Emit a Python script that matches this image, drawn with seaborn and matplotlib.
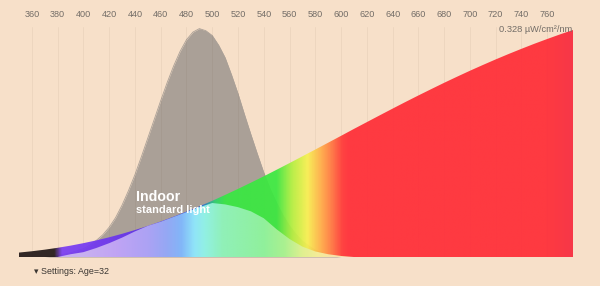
import numpy as np
import pandas as pd
import matplotlib
matplotlib.use("Agg")
import matplotlib.pyplot as plt
from matplotlib.colors import LinearSegmentedColormap
import seaborn as sns

# ---------------- data ----------------
wavelength = list(range(350, 790, 10))
# incandescent "standard light" spectrum, µW/cm²/nm
illuminant = [0.0064, 0.0083, 0.0106, 0.0133, 0.0164, 0.0200, 0.0240, 0.0285, 0.0335,
              0.0390, 0.0449, 0.0513, 0.0582, 0.0655, 0.0732, 0.0812, 0.0897, 0.0984,
              0.1074, 0.1166, 0.1261, 0.1357, 0.1455, 0.1553, 0.1652, 0.1751, 0.1851,
              0.1949, 0.2047, 0.2144, 0.2240, 0.2334, 0.2426, 0.2517, 0.2605, 0.2691,
              0.2774, 0.2855, 0.2933, 0.3008, 0.3081, 0.3150, 0.3217, 0.3280]
# effective (weighted) light
weighted = [0.000, 0.000, 0.000, 0.000, 0.004, 0.007, 0.013, 0.020, 0.028, 0.037,
            0.045, 0.051, 0.058, 0.065, 0.072, 0.078, 0.076, 0.072, 0.066, 0.056,
            0.040, 0.026, 0.015, 0.008, 0.004, 0.0015, 0.000, 0.000, 0.000, 0.000,
            0.000, 0.000, 0.000, 0.000, 0.000, 0.000, 0.000, 0.000, 0.000, 0.000,
            0.000, 0.000, 0.000, 0.000]
# sensitivity curve (grey), 5 nm steps, same scale
sens_nm = list(range(370, 615, 5))
sensitivity = [0.000, 0.001, 0.002, 0.004, 0.006, 0.009, 0.012, 0.017, 0.024, 0.032,
               0.043, 0.057, 0.075, 0.096, 0.119, 0.145, 0.172, 0.199, 0.226, 0.252,
               0.276, 0.297, 0.314, 0.325, 0.330, 0.327, 0.320, 0.306, 0.288, 0.263,
               0.236, 0.206, 0.177, 0.149, 0.122, 0.098, 0.078, 0.060, 0.045, 0.033,
               0.023, 0.016, 0.010, 0.006, 0.003, 0.001, 0.000, 0.000, 0.000]
tick_nm = list(range(360, 780, 20))
max_label = "0.328 µW/cm²/nm"
title_main = "Indoor"
title_sub = "standard light"
settings_label = "▾ Settings: Age=32"

df = pd.DataFrame({"nm": wavelength, "illum": illuminant, "weighted": weighted})
df_sens = pd.DataFrame({"nm": sens_nm, "sens": sensitivity})

# ---------------- style ----------------
BG = "#f7e0c9"
GREY = "#aaa097"
TXT = "#736d67"
sns.set_theme(style="white")
plt.rcParams["font.family"] = ["Liberation Sans", "DejaVu Sans"]

fig = plt.figure(figsize=(6.0, 2.86), dpi=100, facecolor=BG)
ax = fig.add_axes([19 / 600, (286 - 257) / 286, 554 / 600, 230 / 286])
ax.set_facecolor(BG)
ymax = 0.328 * 230 / 227

# grey sensitivity curve
ax.fill_between(df_sens["nm"], 0, df_sens["sens"], color=GREY, lw=0, zorder=1)
sns.lineplot(data=df_sens, x="nm", y="sens", color=GREY, lw=0.6, ax=ax, zorder=1)

# faint vertical grid
for t in tick_nm:
    ax.axvline(t, color="#5a3a20", alpha=0.06, lw=0.7, zorder=1.5)

# saturated spectrum colours
sat_stops = [(350, "#231918"), (377, "#231918"), (383, "#7b3df3"), (420, "#6e37f0"),
             (450, "#5a30e6"), (470, "#3c2de4"), (482, "#2a32e8"), (492, "#2868dc"),
             (502, "#30d070"), (510, "#38e843"), (550, "#3ce840"), (562, "#b4f040"),
             (574, "#f8f050"), (584, "#ffb048"), (593, "#ff7440"), (601, "#ff3838"),
             (606, "#ff2d37"), (760, "#ff2d37"), (780, "#f82a3e")]
pale_stops = [(350, "#c8b4f0"), (400, "#c8b0f0"), (425, "#c0a4f4"), (450, "#aca2f4"),
              (465, "#94a8f4"), (476, "#82b6f8"), (486, "#90e4f8"), (494, "#92f0e4"),
              (508, "#90f0b8"), (540, "#90f09c"), (556, "#aaf090"), (570, "#e0f090"),
              (582, "#f4ec98"), (595, "#f8e0a8"), (780, "#f7e0c9")]


def make_cmap(stops, name):
    lo, hi = 350.0, 780.0
    return LinearSegmentedColormap.from_list(
        name, [((w - lo) / (hi - lo), c) for w, c in stops], N=1024)


grad = np.linspace(0, 1, 1200)[None, :]

poly_ill = ax.fill_between(df["nm"], 0, df["illum"], facecolor="none", lw=0)
im1 = ax.imshow(grad, cmap=make_cmap(sat_stops, "sat"), aspect="auto",
                extent=[350, 780, 0, ymax], origin="lower", alpha=0.93,
                zorder=2, interpolation="bilinear")
im1.set_clip_path(poly_ill.get_paths()[0], transform=ax.transData)

poly_w = ax.fill_between(df["nm"], 0, df["weighted"], facecolor="none", lw=0)
im2 = ax.imshow(grad, cmap=make_cmap(pale_stops, "pale"), aspect="auto",
                extent=[350, 780, 0, ymax], origin="lower",
                zorder=3, interpolation="bilinear")
im2.set_clip_path(poly_w.get_paths()[0], transform=ax.transData)

# axes cosmetics (after seaborn, so its labels are cleared)
ax.set_xlim(350, 780)
ax.set_ylim(0, ymax)
ax.set_xticks(tick_nm)
ax.set_xticklabels([str(t) for t in tick_nm], fontsize=6.6, color=TXT)
ax.xaxis.tick_top()
ax.tick_params(axis="x", length=0, pad=5.5)
ax.set_yticks([])
ax.set_xlabel("")
ax.set_ylabel("")
for s in ax.spines.values():
    s.set_visible(False)

# texts
fig.text(572 / 600, 1 - 29 / 286, max_label, ha="right", va="center",
         fontsize=6.7, color=TXT, zorder=5)
fig.text(136 / 600, 1 - 197 / 286, title_main, ha="left", va="center",
         fontsize=10.2, fontweight="bold", color="white", zorder=6)
fig.text(136 / 600, 1 - 210 / 286, title_sub, ha="left", va="center",
         fontsize=7.9, fontweight="bold", color="white", zorder=6)
fig.text(34 / 600, 1 - 272 / 286, settings_label, ha="left", va="center",
         fontsize=6.4, color="#3a3632")

fig.savefig("out.png", dpi=100, facecolor=BG)
